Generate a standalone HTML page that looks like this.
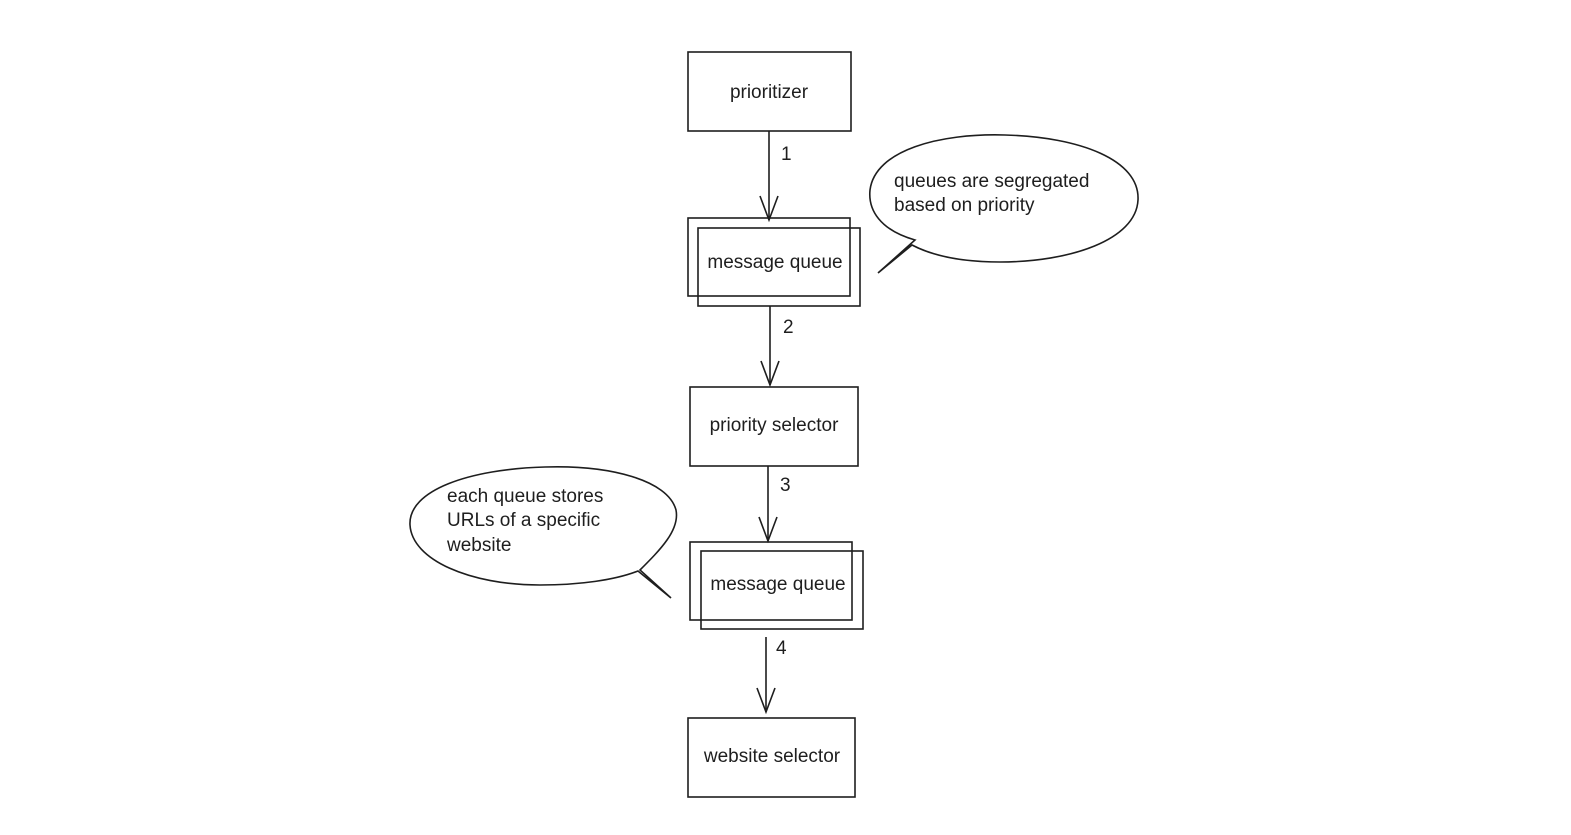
<!DOCTYPE html>
<html><head><meta charset="utf-8"><style>
html,body{margin:0;padding:0;background:#fff;}
svg{display:block;}
text{font-family:"Liberation Sans",sans-serif;font-size:19px;fill:#1e1e1e;}
</style></head><body>
<svg width="1571" height="835" viewBox="0 0 1571 835" xmlns="http://www.w3.org/2000/svg">
<g fill="none" stroke="#1e1e1e" stroke-width="1.6">
<rect x="688" y="52" width="163" height="79"/>
<line x1="769" y1="131" x2="769" y2="220"/>
<path d="M760 196 L769 220 L778 196"/>
<rect x="688" y="218" width="162" height="78"/>
<rect x="698" y="228" width="162" height="78"/>
<path d="M915 240 C880 230 868 210 870 190 C875 150 940 133 1005 135 C1080 137 1140 160 1138 200 C1136 240 1070 262 1000 262 C965 262 935 257 912 245 L878 273 Z"/>
<line x1="770" y1="306" x2="770" y2="385"/>
<path d="M761 361 L770 385 L779 361"/>
<rect x="690" y="387" width="168" height="79"/>
<line x1="768" y1="466" x2="768" y2="541"/>
<path d="M759 517 L768 541 L777 517"/>
<rect x="690" y="542" width="162" height="78"/>
<rect x="701" y="551" width="162" height="78"/>
<path d="M640 570 C660 550 680 530 676 510 C668 480 610 465 545 467 C470 469 408 490 410 525 C412 560 470 585 540 585 C580 585 615 580 638 571 L671 598 Z"/>
<line x1="766" y1="637" x2="766" y2="712"/>
<path d="M757 688 L766 712 L775 688"/>
<rect x="688" y="718" width="167" height="79"/>
</g>
<text x="769" y="98" text-anchor="middle">prioritizer</text>
<text x="781" y="160">1</text>
<text x="775" y="268" text-anchor="middle">message queue</text>
<text x="894" y="187">queues are segregated</text>
<text x="894" y="211">based on priority</text>
<text x="783" y="333">2</text>
<text x="774" y="431" text-anchor="middle">priority selector</text>
<text x="780" y="491">3</text>
<text x="778" y="590" text-anchor="middle">message queue</text>
<text x="447" y="502">each queue stores</text>
<text x="447" y="526">URLs of a specific</text>
<text x="447" y="551">website</text>
<text x="776" y="654">4</text>
<text x="772" y="762" text-anchor="middle">website selector</text>
</svg>
</body></html>
